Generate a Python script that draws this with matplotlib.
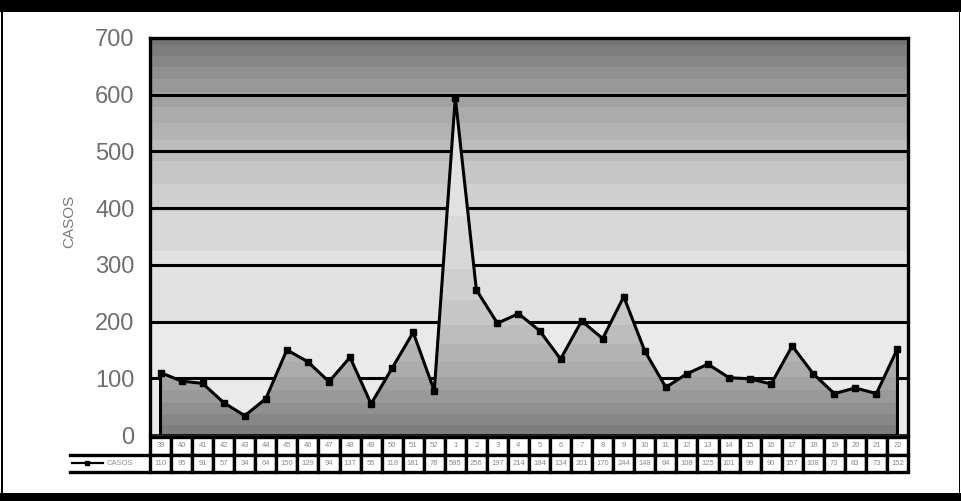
import numpy as np
import matplotlib
matplotlib.use("Agg")
import matplotlib.pyplot as plt
from matplotlib.patches import Polygon, Rectangle

# Epidemiological weeks and weekly case counts
weeks = [str(w) for w in list(range(39, 53)) + list(range(1, 23))]
casos = [110, 95, 91, 57, 34, 64, 150, 129, 94, 137, 55, 118, 181, 78,
         595, 256, 197, 214, 184, 134, 201, 170, 244, 148, 84, 108, 125,
         101, 99, 90, 157, 108, 73, 83, 73, 152]
y_ticks = [0, 100, 200, 300, 400, 500, 600, 700]
series_name = "CASOS"

plt.rcParams['font.family'] = ['Liberation Sans', 'DejaVu Sans']

W, H = 962, 501
fig = plt.figure(figsize=(W / 100, H / 100), dpi=100)
fig.patch.set_facecolor('white')


def fx(px):
    return px / W


def fy(py):
    return 1 - py / H


n = len(casos)
x = np.arange(n)
ymax = y_ticks[-1]

ax = fig.add_axes([fx(150), fy(435), fx(908) - fx(150), fy(38) - fy(435)])

# stepped background gradient: dark at the top, light near zero
v = np.linspace(0, ymax, 700)
bg = 232 - 116 * (v / ymax) ** 3
bg = np.round(bg / 9) * 9
ax.imshow(bg[:, None] / 255, cmap='gray', vmin=0, vmax=1, origin='lower',
          extent=[-0.5, n - 0.5, 0, ymax], aspect='auto', zorder=0,
          interpolation='nearest')

for t in y_ticks[1:-1]:
    ax.axhline(t, color='black', lw=2.2, zorder=1)

# area under the series, filled with the reverse gradient
verts = [(0, 0)] + list(zip(x, casos)) + [(n - 1, 0)]
poly = Polygon(verts, closed=True, facecolor='none', edgecolor='none')
ax.add_patch(poly)
top = max(casos)
va = np.linspace(0, top, 600)
ag = 122 + 103 * (1 - (1 - va / top) ** 3)
ag = np.round(ag / 9) * 9
im = ax.imshow(ag[:, None] / 255, cmap='gray', vmin=0, vmax=1, origin='lower',
               extent=[-0.5, n - 0.5, 0, top], aspect='auto', zorder=2,
               interpolation='nearest')
im.set_clip_path(poly)

ax.plot(np.r_[0, x, n - 1], np.r_[0, casos, 0], color='black', lw=2.2,
        zorder=3, solid_joinstyle='miter')
ax.plot(x, casos, ls='none', marker='s', ms=4.5, color='black', zorder=4)

ax.set_xlim(-0.5, n - 0.5)
ax.set_ylim(0, ymax)
ax.set_xticks([])
ax.set_yticks(y_ticks)
ax.tick_params(axis='y', length=0, pad=11, labelsize=17, labelcolor='#6e6e6e')
for s in ax.spines.values():
    s.set_color('black')
    s.set_linewidth(2.4)
ax.spines['bottom'].set_linewidth(1.2)

fig.text(fx(69), fy(221), series_name, rotation=90, ha='center', va='center',
         fontsize=11, color='#7a7a7a')

# data table below the plot
cell_px = (908 - 150) / n
xmin = -0.5 - (150 - 70) / cell_px
tab = fig.add_axes([fx(70), fy(473), fx(908) - fx(70), fy(436) - fy(473)])
tab.set_xlim(xmin, n - 0.5)
tab.set_ylim(0, 2)
tab.axis('off')

for i in range(n):
    tab.add_patch(Rectangle((i - 0.5, 1.0), 1, 0.97, facecolor='white',
                            edgecolor='black', lw=2.4, clip_on=False))
    tab.text(i, 1.48, weeks[i], ha='center', va='center', fontsize=5.5,
             color='#8a8a8a')
    tab.add_patch(Rectangle((i - 0.5, 0.06), 1, 0.94, facecolor='white',
                            edgecolor='black', lw=2.4, clip_on=False))
    tab.text(i, 0.53, str(casos[i]), ha='center', va='center', fontsize=5.5,
             color='#8a8a8a')

tab.plot([xmin, -0.5], [1.0, 1.0], color='black', lw=2.4, clip_on=False)
tab.plot([xmin, -0.5], [0.06, 0.06], color='black', lw=2.4, clip_on=False)
tab.plot([xmin + 0.1, xmin + 1.55], [0.53, 0.53], color='black', lw=1.6)
tab.plot([xmin + 0.82], [0.53], ls='none', marker='s', ms=3.5, color='black')
tab.text(xmin + 1.75, 0.53, series_name, ha='left', va='center', fontsize=5.5,
         color='#8a8a8a')

# outer frame
fig.patches.append(Rectangle((0, fy(12)), 1, 12 / H, transform=fig.transFigure,
                             facecolor='black', edgecolor='none'))
fig.patches.append(Rectangle((0, 0), 1, 8 / H, transform=fig.transFigure,
                             facecolor='black', edgecolor='none'))
fig.patches.append(Rectangle((fx(1), 0), 1.5 / W, 1, transform=fig.transFigure,
                             facecolor='black', edgecolor='none'))
fig.patches.append(Rectangle((fx(959), 0), 1.5 / W, 1, transform=fig.transFigure,
                             facecolor='black', edgecolor='none'))

fig.savefig('out.png', dpi=100)
